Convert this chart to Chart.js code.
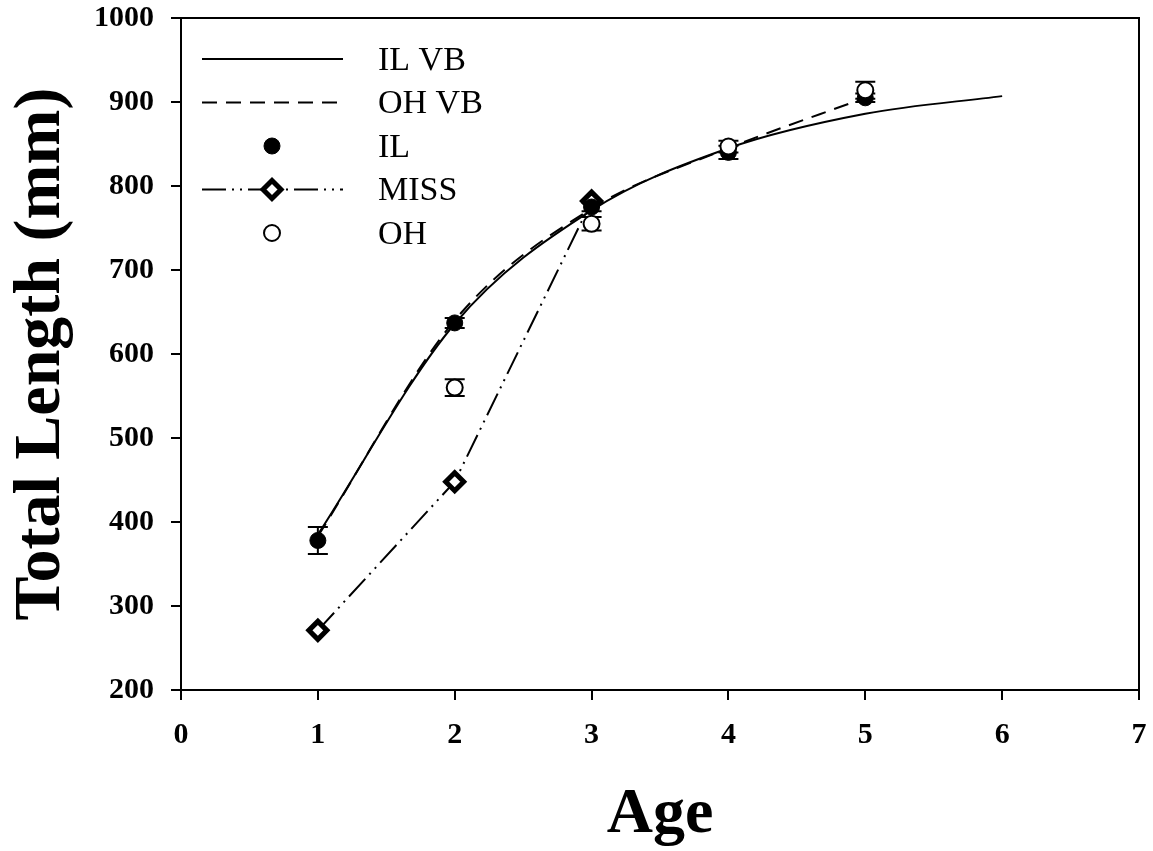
<!DOCTYPE html>
<html>
<head>
<meta charset="utf-8">
<script src="https://cdn.jsdelivr.net/npm/chart.js@4.4.1/dist/chart.umd.min.js"></script>
<style>
  body { margin: 0; background: #fff; }
</style>
</head>
<body>
<canvas id="myChart" width="1153" height="851"></canvas>
<script>
// fitted growth curves
const ilVBAges = [1, 2, 3, 4, 5, 6];
const ilVB = [385, 636, 771, 845, 886, 907];
const ohVBAges = [1, 2, 3, 4, 5];
const ohVB = [383, 640, 773, 845, 905];

// observed means and error
const ilAges = [1, 2, 3, 4, 5];
const ilMean = [378, 637, 775, 840, 905];
const ilErr = [16, 6, 5, 8, 5];
const missAges = [1, 2, 3];
const missMean = [271, 448, 782];
const ohAges = [2, 3, 4, 5];
const ohMean = [560, 755, 847, 914];
const ohErr = [10, 8, 7, 10];

const xTicks = [0, 1, 2, 3, 4, 5, 6, 7];
const yTicks = [200, 300, 400, 500, 600, 700, 800, 900, 1000];

const serif = "'Liberation Serif', 'Times New Roman', serif";

const pts = (xs, ys) => xs.map((x, i) => ({ x: x, y: ys[i] }));

// box round the plot area
const frame = {
    id: 'frame',
    afterDraw(chart) {
        const a = chart.chartArea;
        const ctx = chart.ctx;
        ctx.save();
        ctx.strokeStyle = '#000';
        ctx.lineWidth = 2;
        ctx.beginPath();
        ctx.moveTo(a.left, a.top);
        ctx.lineTo(a.right, a.top);
        ctx.lineTo(a.right, a.bottom);
        ctx.stroke();
        ctx.restore();
    }
};

// vertical error bars with caps
const errorBars = {
    id: 'errorBars',
    beforeDatasetsDraw(chart) {
        const ctx = chart.ctx;
        const xs = chart.scales.x, ys = chart.scales.y;
        ctx.save();
        ctx.strokeStyle = '#000';
        ctx.lineWidth = 2;
        chart.data.datasets.forEach(ds => {
            if (!ds.errors) return;
            ds.data.forEach((p, i) => {
                const e = ds.errors[i];
                const px = xs.getPixelForValue(p.x);
                const top = ys.getPixelForValue(p.y + e);
                const bot = ys.getPixelForValue(p.y - e);
                ctx.beginPath();
                ctx.moveTo(px, top); ctx.lineTo(px, bot);
                ctx.moveTo(px - 10, top); ctx.lineTo(px + 10, top);
                ctx.moveTo(px - 10, bot); ctx.lineTo(px + 10, bot);
                ctx.stroke();
            });
        });
        ctx.restore();
    }
};

function drawMarker(ctx, ds, x, y) {
    const r = ds.pointRadius;
    ctx.save();
    ctx.fillStyle = ds.pointBackgroundColor;
    ctx.strokeStyle = ds.pointBorderColor;
    ctx.lineWidth = ds.pointBorderWidth;
    ctx.setLineDash([]);
    ctx.beginPath();
    if (ds.pointStyle === 'rectRot') {
        ctx.moveTo(x, y - r); ctx.lineTo(x + r, y);
        ctx.lineTo(x, y + r); ctx.lineTo(x - r, y);
        ctx.closePath();
    } else {
        ctx.arc(x, y, r, 0, Math.PI * 2);
    }
    ctx.fill();
    ctx.stroke();
    ctx.restore();
}

// legend drawn inside the plot, top left
const insideLegend = {
    id: 'insideLegend',
    afterDraw(chart) {
        const ctx = chart.ctx;
        ctx.save();
        ctx.font = '34px ' + serif;
        ctx.textBaseline = 'middle';
        ctx.fillStyle = '#000';
        chart.data.datasets.forEach((ds, i) => {
            const y = 59 + i * 43.5;
            if (ds.showLine !== false) {
                ctx.strokeStyle = '#000';
                ctx.lineWidth = ds.borderWidth;
                ctx.setLineDash(ds.borderDash || []);
                ctx.beginPath();
                ctx.moveTo(202, y);
                ctx.lineTo(343, y);
                ctx.stroke();
            }
            if (ds.pointRadius > 0) drawMarker(ctx, ds, 272, y);
            ctx.fillText(ds.label, 378, y + 2);
        });
        ctx.restore();
    }
};

const ctx = document.getElementById('myChart');

new Chart(ctx, {
    type: 'scatter',
    data: {
        datasets: [
            {
                label: 'IL VB',
                data: pts(ilVBAges, ilVB),
                showLine: true,
                borderColor: '#000',
                borderWidth: 2,
                pointRadius: 0,
                cubicInterpolationMode: 'monotone',
                order: 4
            },
            {
                label: 'OH VB',
                data: pts(ohVBAges, ohVB),
                showLine: true,
                borderColor: '#000',
                borderWidth: 2,
                borderDash: [15, 9],
                pointRadius: 0,
                cubicInterpolationMode: 'monotone',
                order: 3
            },
            {
                label: 'IL',
                data: pts(ilAges, ilMean),
                errors: ilErr,
                showLine: false,
                pointStyle: 'circle',
                pointRadius: 8,
                pointBorderWidth: 1,
                pointBackgroundColor: '#000',
                pointBorderColor: '#000',
                order: 1
            },
            {
                label: 'MISS',
                data: pts(missAges, missMean),
                showLine: true,
                borderColor: '#000',
                borderWidth: 2,
                borderDash: [24, 6, 2, 6, 2, 6],
                pointStyle: 'rectRot',
                pointRadius: 9,
                pointBorderWidth: 5,
                pointBackgroundColor: '#fff',
                pointBorderColor: '#000',
                order: 2
            },
            {
                label: 'OH',
                data: pts(ohAges, ohMean),
                errors: ohErr,
                showLine: false,
                pointStyle: 'circle',
                pointRadius: 8,
                pointBorderWidth: 2,
                pointBackgroundColor: '#fff',
                pointBorderColor: '#000',
                order: 0
            }
        ]
    },
    options: {
        responsive: false,
        devicePixelRatio: 1,
        animation: false,
        layout: { padding: { left: 0, right: 12, top: 18, bottom: 0 } },
        plugins: {
            legend: { display: false },
            tooltip: { enabled: false }
        },
        elements: { line: { tension: 0 } },
        scales: {
            x: {
                type: 'linear',
                min: 0,
                max: 7,
                afterBuildTicks: s => { s.ticks = xTicks.map(v => ({ value: v })); },
                afterFit: s => { s.height = 161; s.paddingLeft = 0; s.paddingRight = 0; },
                grid: { drawOnChartArea: false, tickLength: 10, color: '#000', lineWidth: 2 },
                border: { color: '#000', width: 2 },
                ticks: { color: '#000', padding: 17, font: { family: serif, size: 30, weight: 'bold' } },
                title: {
                    display: true,
                    text: 'Age',
                    color: '#000',
                    padding: { top: 0, bottom: 4 },
                    font: { family: serif, size: 64, weight: 'bold', lineHeight: 1 }
                }
            },
            y: {
                type: 'linear',
                min: 200,
                max: 1000,
                afterBuildTicks: s => { s.ticks = yTicks.map(v => ({ value: v })); },
                afterFit: s => { s.width = 181; s.paddingTop = 0; s.paddingBottom = 0; },
                grid: { drawOnChartArea: false, tickLength: 10, color: '#000', lineWidth: 2 },
                border: { color: '#000', width: 2 },
                ticks: {
                    color: '#000',
                    padding: 17,
                    font: { family: serif, size: 30, weight: 'bold' },
                    callback: v => String(v)
                },
                title: {
                    display: true,
                    text: 'Total Length (mm)',
                    color: '#000',
                    padding: { top: 9, bottom: 0 },
                    font: { family: serif, size: 66, weight: 'bold', lineHeight: 1 }
                }
            }
        }
    },
    plugins: [frame, errorBars, insideLegend]
});
</script>
</body>
</html>
